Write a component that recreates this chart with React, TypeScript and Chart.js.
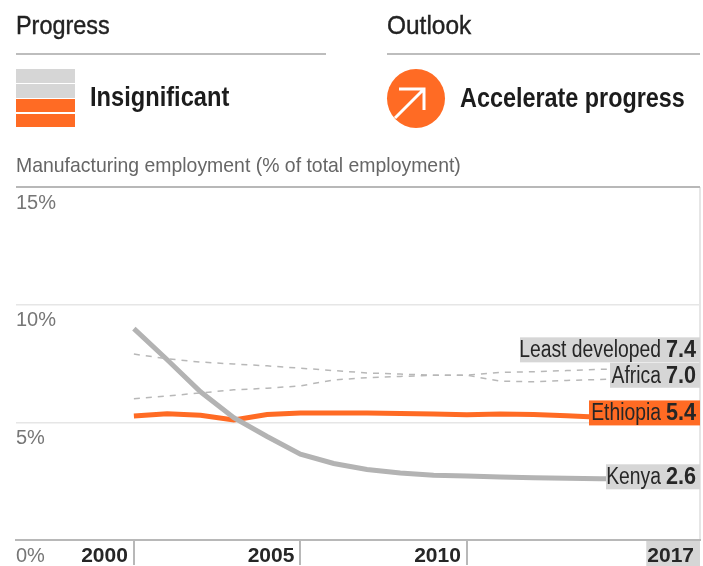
import React, { useEffect, useRef } from "react";
import { Chart, registerables } from "chart.js";

Chart.register(...registerables);

const years = [2000, 2001, 2002, 2003, 2004, 2005, 2006, 2007, 2008, 2009, 2010, 2011, 2012, 2013, 2014, 2015, 2016, 2017];
const kenya = [8.98, 7.66, 6.3, 5.2, 4.4, 3.65, 3.25, 3.0, 2.85, 2.75, 2.72, 2.68, 2.65, 2.62, 2.6, 2.6, 2.6, 2.6];
const ethiopia = [5.27, 5.36, 5.3, 5.1, 5.33, 5.4, 5.4, 5.4, 5.38, 5.35, 5.32, 5.35, 5.33, 5.28, 5.22, 5.2, 5.22, 5.4];
const leastDeveloped = [7.9, 7.7, 7.56, 7.48, 7.4, 7.3, 7.2, 7.1, 7.05, 7.0, 7.0, 7.12, 7.15, 7.2, 7.25, 7.3, 7.35, 7.4];
const africa = [6.0, 6.12, 6.25, 6.38, 6.45, 6.55, 6.8, 6.9, 6.95, 7.0, 7.0, 6.75, 6.72, 6.78, 6.82, 6.88, 6.94, 7.0];
const xTicks = [2000, 2005, 2010, 2017];
const yTicks = [0, 5, 10, 15];

const ORANGE = "#ff6b24";
const LABEL_GREY = "#d6d6d6";
const SANS = '"Liberation Sans", sans-serif';
const NAME_SQUEEZE = 0.84;
const VALUE_SQUEEZE = 0.94;

const endLabels = [
  { name: "Least developed", value: 7.4, fill: LABEL_GREY, shift: -16, left: 520 },
  { name: "Africa", value: 7.0, fill: LABEL_GREY, shift: 0, left: 610 },
  { name: "Ethiopia", value: 5.4, fill: ORANGE, shift: 0, left: 589 },
  { name: "Kenya", value: 2.6, fill: LABEL_GREY, shift: -2, left: 606 },
];

// Boxed "name value" tags at the right end of each line, set in a condensed width.
const endLabelPlugin = {
  id: "endLabels",
  afterDatasetsDraw(chart: any) {
    const { ctx, scales } = chart;
    const right = scales.x.getPixelForValue(2017);
    for (const l of endLabels) {
      const y = scales.y.getPixelForValue(l.value) + l.shift;
      ctx.save();
      ctx.fillStyle = l.fill;
      ctx.fillRect(l.left, y - 12.5, right - l.left, 25);
      ctx.textBaseline = "middle";
      ctx.textAlign = "right";
      ctx.fillStyle = "#262626";
      const valueText = l.value.toFixed(1);
      ctx.font = `bold 23px ${SANS}`;
      const w = ctx.measureText(valueText).width * VALUE_SQUEEZE;
      ctx.save();
      ctx.translate(right - 4, y + 1);
      ctx.scale(VALUE_SQUEEZE, 1);
      ctx.fillText(valueText, 0, 0);
      ctx.restore();
      ctx.font = `23px ${SANS}`;
      ctx.translate(right - 4 - w - 5, y + 1);
      ctx.scale(NAME_SQUEEZE, 1);
      ctx.fillText(l.name, 0, 0);
      ctx.restore();
    }
  },
};

const textStyle = (squeeze: number, o: React.CSSProperties): React.CSSProperties => ({
  position: "absolute",
  fontFamily: SANS,
  whiteSpace: "nowrap",
  lineHeight: 1,
  transform: `scaleX(${squeeze})`,
  transformOrigin: "left top",
  ...o,
});

export default function App() {
  const ref = useRef<HTMLCanvasElement>(null);

  useEffect(() => {
    const line = (label: string, data: number[], color: string, width: number, dash: number[] = []) => ({
      label,
      data: years.map((x, i) => ({ x, y: data[i] })),
      borderColor: color,
      borderWidth: width,
      borderDash: dash,
      pointRadius: 0,
      tension: 0,
    });
    const chart = new Chart(ref.current!, {
      type: "line",
      data: {
        datasets: [
          line("Least developed", leastDeveloped, "#b8b8b8", 1.5, [6, 6]),
          line("Africa", africa, "#b8b8b8", 1.5, [6, 6]),
          line("Kenya", kenya, "#b3b3b3", 5),
          line("Ethiopia", ethiopia, ORANGE, 5),
        ],
      },
      options: {
        animation: false,
        responsive: false,
        layout: { padding: { left: 16, right: 3, top: 187, bottom: 0 } },
        plugins: { legend: { display: false }, tooltip: { enabled: false } },
        scales: {
          x: {
            type: "linear",
            min: 1996.46,
            max: 2017,
            afterBuildTicks: (s: any) => {
              s.ticks = xTicks.map((value) => ({ value }));
            },
            afterFit: (s: any) => {
              s.height = 26;
            },
            border: { color: "#b8b8b8", width: 2 },
            grid: {
              color: (c: any) => (c.tick?.value === 2017 ? "#e6e6e6" : "rgba(0,0,0,0)"),
              tickColor: (c: any) => (c.tick?.value === 2017 ? "rgba(0,0,0,0)" : "#b8b8b8"),
              tickLength: 25,
              lineWidth: 2,
            },
            ticks: {
              align: "end",
              autoSkip: false,
              maxRotation: 0,
              padding: -21,
              labelOffset: -6,
              color: "#262626",
              font: { family: SANS, size: 21, weight: "bold" },
              showLabelBackdrop: (c: any) => c.tick?.value === 2017,
              backdropColor: LABEL_GREY,
              backdropPadding: { left: 1, right: 6, top: 3, bottom: 3 },
              callback: (v: any) => String(v),
            },
          },
          y: {
            min: 0,
            max: 15,
            afterBuildTicks: (s: any) => {
              s.ticks = yTicks.map((value) => ({ value }));
            },
            afterFit: (s: any) => {
              s.width = 0;
            },
            border: { display: false },
            grid: {
              drawTicks: false,
              color: (c: any) => (c.tick?.value === 15 ? "#b8b8b8" : "#e6e6e6"),
              lineWidth: (c: any) => (c.tick?.value === 15 ? 2 : 1.5),
            },
            ticks: {
              mirror: true,
              padding: 0,
              labelOffset: 16,
              color: "#767676",
              font: { family: SANS, size: 20 },
              callback: (v: any) => `${v}%`,
            },
          },
        },
      },
      plugins: [endLabelPlugin],
    } as any);
    return () => chart.destroy();
  }, []);

  const bar = (top: number, color: string) => (
    <div style={{ position: "absolute", left: 16, top, width: 59, height: 13.5, background: color }} />
  );
  const rule = (left: number, width: number) => (
    <div style={{ position: "absolute", left, top: 52.5, width, height: 2, background: "#bdbdbd" }} />
  );

  return (
    <div style={{ position: "absolute", left: 0, top: 0, width: 703, height: 566, background: "#fff", overflow: "hidden" }}>
      <canvas ref={ref} width={703} height={566} style={{ position: "absolute", left: 0, top: 0, display: "block" }} />
      <div style={textStyle(0.9, { left: 16, top: 12, fontSize: 26, color: "#222", WebkitTextStroke: "0.4px #222" })}>Progress</div>
      <div style={textStyle(0.94, { left: 387, top: 12, fontSize: 26, color: "#222", WebkitTextStroke: "0.4px #222" })}>Outlook</div>
      {rule(16, 310)}
      {rule(387, 313)}
      {bar(69, LABEL_GREY)}
      {bar(84, LABEL_GREY)}
      {bar(98.5, ORANGE)}
      {bar(113.5, ORANGE)}
      <div style={textStyle(0.845, { left: 90, top: 83, fontSize: 28, fontWeight: 700, color: "#1c1c1c" })}>Insignificant</div>
      <svg width={60} height={62} style={{ position: "absolute", left: 386, top: 68 }}>
        <ellipse cx={30} cy={30.5} rx={29} ry={29.5} fill={ORANGE} />
        <path d="M9 50 L37 22 M13 21 H38 V42" fill="none" stroke="#fff" strokeWidth={3} />
      </svg>
      <div style={textStyle(0.835, { left: 460, top: 84, fontSize: 28, fontWeight: 700, color: "#1c1c1c" })}>Accelerate progress</div>
      <div style={textStyle(0.925, { left: 16, top: 154, fontSize: 21, color: "#666" })}>Manufacturing employment (% of total employment)</div>
    </div>
  );
}
